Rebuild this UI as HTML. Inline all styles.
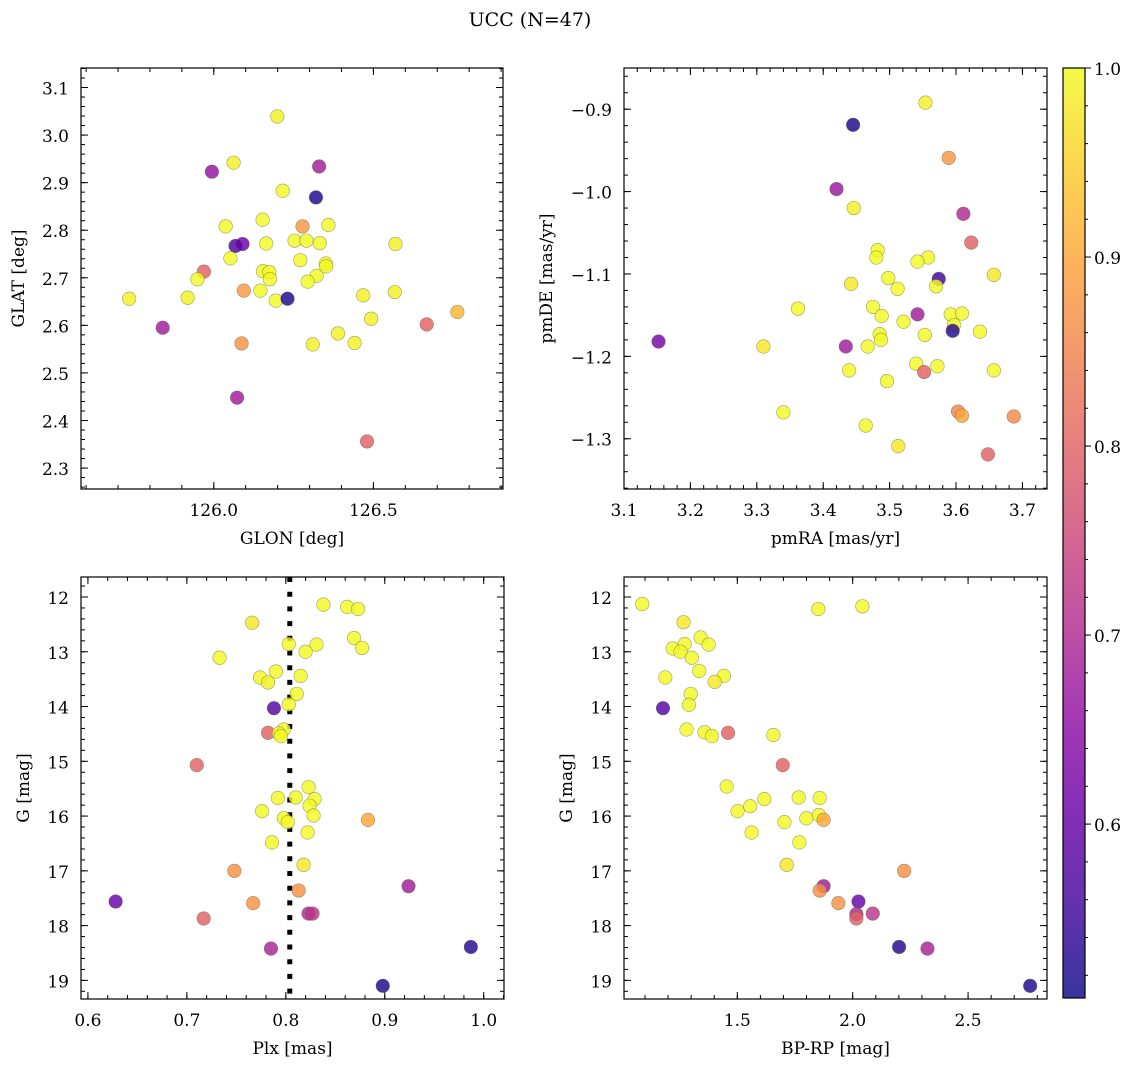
<!DOCTYPE html>
<html><head><meta charset="utf-8"><style>
html,body{margin:0;padding:0;background:#fff;}
svg{display:block;font-family:"DejaVu Serif","Liberation Serif",serif;}
</style></head><body>
<svg id="chart" width="1136" height="1067" viewBox="0 0 1136 1067" xmlns="http://www.w3.org/2000/svg">
<text x="530" y="26" font-size="19" text-anchor="middle">UCC (N=47)</text>
</svg>
<script>
// ---- Panel 1: GLON vs GLAT ----
const glonX = [126.199,125.994,126.062,126.330,126.320,126.216,126.037,126.153,126.278,126.359,126.068,126.090,126.164,126.253,126.290,126.332,126.569,126.052,126.271,126.351,126.352,125.969,125.949,126.154,126.174,126.176,126.322,126.294,126.094,126.146,125.735,125.918,126.194,126.231,126.468,126.567,126.763,126.667,125.840,126.493,126.389,126.441,126.087,126.310,126.073,126.480];
const glatY = [3.039,2.923,2.942,2.934,2.869,2.883,2.808,2.822,2.808,2.811,2.767,2.771,2.772,2.778,2.778,2.773,2.771,2.741,2.737,2.730,2.724,2.713,2.697,2.714,2.712,2.697,2.704,2.692,2.673,2.673,2.656,2.658,2.652,2.656,2.663,2.670,2.628,2.602,2.595,2.614,2.583,2.563,2.562,2.560,2.448,2.356];
const glonP = [0.99,0.66,0.99,0.68,0.52,1.0,1.0,1.0,0.88,1.0,0.57,0.60,1.0,1.0,1.0,1.0,0.99,1.0,1.0,1.0,1.0,0.80,1.0,1.0,1.0,1.0,1.0,1.0,0.88,1.0,0.99,0.99,1.0,0.52,0.99,0.99,0.92,0.80,0.68,0.99,0.99,0.99,0.87,0.99,0.68,0.80];
// ---- Panel 2: pmRA vs pmDE ----
const pmraX = [3.554,3.445,3.589,3.420,3.446,3.611,3.623,3.482,3.480,3.558,3.542,3.657,3.574,3.570,3.498,3.512,3.442,3.362,3.475,3.488,3.542,3.521,3.592,3.609,3.597,3.595,3.636,3.485,3.487,3.553,3.152,3.310,3.434,3.467,3.540,3.572,3.552,3.439,3.657,3.496,3.340,3.603,3.609,3.687,3.464,3.513,3.648];
const pmdeY = [-0.892,-0.919,-0.959,-0.997,-1.020,-1.027,-1.062,-1.071,-1.080,-1.080,-1.085,-1.101,-1.106,-1.115,-1.105,-1.118,-1.112,-1.142,-1.140,-1.151,-1.149,-1.158,-1.149,-1.148,-1.162,-1.169,-1.170,-1.173,-1.180,-1.174,-1.182,-1.188,-1.188,-1.188,-1.209,-1.212,-1.219,-1.217,-1.217,-1.230,-1.268,-1.267,-1.272,-1.273,-1.284,-1.309,-1.319];
const pmP = [0.99,0.52,0.88,0.67,0.99,0.70,0.80,1.0,1.0,1.0,1.0,0.98,0.55,1.0,1.0,1.0,0.98,1.0,1.0,1.0,0.68,1.0,1.0,1.0,1.0,0.53,1.0,1.0,1.0,1.0,0.62,0.98,0.68,1.0,1.0,1.0,0.80,1.0,1.0,1.0,1.0,0.85,0.90,0.86,1.0,0.98,0.80];
// ---- Panel 3: Plx vs G ----
const plxX = [0.838,0.862,0.873,0.766,0.869,0.877,0.803,0.831,0.820,0.733,0.790,0.774,0.782,0.815,0.811,0.803,0.788,0.782,0.798,0.793,0.795,0.710,0.823,0.792,0.810,0.829,0.824,0.776,0.828,0.798,0.802,0.883,0.822,0.786,0.818,0.748,0.924,0.813,0.628,0.767,0.823,0.827,0.717,0.785,0.987,0.898];
const plxG = [12.14,12.18,12.22,12.47,12.75,12.93,12.86,12.87,13.00,13.11,13.36,13.47,13.56,13.44,13.77,13.96,14.03,14.48,14.42,14.49,14.54,15.07,15.47,15.67,15.66,15.69,15.81,15.91,15.99,16.04,16.11,16.07,16.30,16.48,16.89,17.00,17.28,17.36,17.56,17.59,17.78,17.78,17.87,18.42,18.39,19.10];
const plxP = [1.0,1.0,1.0,0.98,1.0,1.0,1.0,1.0,1.0,1.0,1.0,1.0,0.99,1.0,1.0,1.0,0.58,0.80,1.0,1.0,1.0,0.80,1.0,1.0,1.0,1.0,1.0,1.0,1.0,1.0,1.0,0.90,1.0,1.0,0.98,0.87,0.68,0.87,0.60,0.87,0.70,0.72,0.80,0.69,0.53,0.52];
const plxMedian = [0.804];
// ---- Panel 4: BP-RP vs G ----
const bprpX = [1.088,1.851,2.042,1.267,1.341,1.376,1.272,1.220,1.254,1.303,1.335,1.188,1.442,1.402,1.298,1.290,1.178,1.280,1.358,1.390,1.460,1.656,1.697,1.454,1.501,1.556,1.617,1.766,1.857,1.853,1.799,1.874,1.704,1.562,1.769,1.714,2.223,1.874,1.857,1.938,2.025,2.016,2.087,2.016,2.201,2.324,2.769];
const bprpG = [12.13,12.22,12.17,12.46,12.74,12.87,12.86,12.94,13.00,13.11,13.35,13.47,13.44,13.55,13.77,13.97,14.03,14.42,14.47,14.54,14.48,14.52,15.07,15.46,15.91,15.82,15.69,15.66,15.67,15.98,16.04,16.07,16.11,16.30,16.48,16.89,17.00,17.28,17.36,17.59,17.56,17.79,17.78,17.87,18.39,18.42,19.10];
const bprpP = [1.0,1.0,1.0,0.98,1.0,1.0,1.0,1.0,1.0,1.0,1.0,1.0,1.0,0.98,1.0,1.0,0.58,1.0,1.0,1.0,0.80,1.0,0.80,1.0,1.0,1.0,1.0,1.0,1.0,1.0,1.0,0.90,1.0,1.0,1.0,0.98,0.87,0.68,0.87,0.87,0.60,0.70,0.72,0.80,0.53,0.69,0.52];
// colorbar
const cbTicks = [0.6,0.7,0.8,0.9,1.0];
const cbMin = 0.508, cbMax = 1.0;

const NS = "http://www.w3.org/2000/svg";
const svg = document.getElementById('chart');
const FS = 17;
function mk(tag, attrs, parent){ const e=document.createElementNS(NS,tag); for(const k in attrs) e.setAttribute(k,attrs[k]); (parent||svg).appendChild(e); return e; }
const plasma = ["#0d0887","#41049d","#6a00a8","#8f0da4","#b12a90","#cc4778","#e16462","#f2844b","#fca636","#fcce25","#f0f921"];
function hex(h){return [parseInt(h.substr(1,2),16),parseInt(h.substr(3,2),16),parseInt(h.substr(5,2),16)];}
function cmap(v){ let t=(v-cbMin)/(cbMax-cbMin); t=Math.max(0,Math.min(1,t)); const f=t*10; const i=Math.min(9,Math.floor(f)); const r=f-i; const a=hex(plasma[i]), b=hex(plasma[i+1]); return 'rgb('+a.map((c,k)=>Math.round(c+(b[k]-c)*r)).join(',')+')'; }
function fmt(v,d){ const s=v.toFixed(d); return s.replace('-','\u2212'); }

function panel(cfg){
  const {name,x0,x1,y0,y1,xmin,xmax,ymin,ymax,invertY} = cfg;
  const sx = v => x0 + (v-xmin)/(xmax-xmin)*(x1-x0);
  const sy = invertY ? (v => y0 + (v-ymin)/(ymax-ymin)*(y1-y0)) : (v => y1 - (v-ymin)/(ymax-ymin)*(y1-y0));
  const g = mk('g',{});
  
  
  const tg = mk('g',{stroke:'#000','stroke-width':1},g);
  function ticksX(step,len,labels,dec){
    const s=Math.ceil(xmin/step-1e-6);
    for(let k=s; k*step<=xmax+1e-9; k++){ const v=k*step, x=sx(v);
      mk('line',{x1:x,x2:x,y1:y1,y2:y1-len},tg); mk('line',{x1:x,x2:x,y1:y0,y2:y0+len},tg);
      if(labels){ const t=mk('text',{x:x,y:y1+27,'font-size':FS,'text-anchor':'middle',stroke:'none'},g); t.textContent=fmt(v,dec);
          }
    }
  }
  function ticksY(step,len,labels,dec){
    const lo=Math.min(ymin,ymax), hi=Math.max(ymin,ymax);
    const s=Math.ceil(lo/step-1e-6);
    for(let k=s; k*step<=hi+1e-9; k++){ const v=k*step, y=sy(v);
      mk('line',{x1:x0,x2:x0+len,y1:y,y2:y},tg); mk('line',{x1:x1,x2:x1-len,y1:y,y2:y},tg);
      if(labels){ const t=mk('text',{x:x0-12,y:y+7,'font-size':FS,'text-anchor':'end',stroke:'none'},g); t.textContent=fmt(v,dec);
          }
    }
  }
  ticksX(cfg.xMinor,4,false); ticksX(cfg.xMajor,7,true,cfg.xDec);
  ticksY(cfg.yMinor,4,false); ticksY(cfg.yMajor,7,true,cfg.yDec);
  if(cfg.vline){ cfg.vline.forEach(v=>{ const l=mk('line',{x1:sx(v),x2:sx(v),y1:y0,y2:y1,stroke:'#000','stroke-width':5,'stroke-dasharray':'5,9.7'},g);
      }); }
  const pg = mk('g',{},g);
  
  
  for(let i=0;i<cfg.xs.length;i++){
    const c=mk('circle',{cx:sx(cfg.xs[i]),cy:sy(cfg.ys[i]),r:6.8,fill:cmap(cfg.ps[i]),'fill-opacity':0.82,stroke:'rgba(90,90,60,0.55)','stroke-width':0.6},pg);
    
    
  }
  const f=mk('rect',{x:x0,y:y0,width:x1-x0,height:y1-y0,fill:'none',stroke:'#000','stroke-width':1.2},g);
  
  
  const xl=mk('text',{x:(x0+x1)/2,y:y1+55,'font-size':FS,'text-anchor':'middle'},g); xl.textContent=cfg.xlabel;
   
  const yx=cfg.ylabelX, yy=(y0+y1)/2;
  const yl=mk('text',{x:yx,y:yy,'font-size':FS,'text-anchor':'middle',transform:'rotate(-90 '+yx+' '+yy+')'},g); yl.textContent=cfg.ylabel;
   
}

panel({name:'glon-glat-panel',x0:81,x1:503,y0:68,y1:489,xmin:125.584,xmax:126.906,ymin:2.256,ymax:3.141,
  xMajor:0.5,xMinor:0.1,xDec:1,yMajor:0.1,yMinor:0.02,yDec:1,xs:glonX,ys:glatY,ps:glonP,xlabel:'GLON [deg]',ylabel:'GLAT [deg]',ylabelX:24});
panel({name:'pm-panel',x0:624,x1:1047,y0:68,y1:489,xmin:3.1,xmax:3.737,ymin:-1.361,ymax:-0.850,
  xMajor:0.1,xMinor:0.02,xDec:1,yMajor:0.1,yMinor:0.02,yDec:1,xs:pmraX,ys:pmdeY,ps:pmP,xlabel:'pmRA [mas/yr]',ylabel:'pmDE [mas/yr]',ylabelX:552});
panel({name:'plx-g-panel',x0:81,x1:504,y0:577,y1:999,xmin:0.593,xmax:1.0205,ymin:11.635,ymax:19.34,invertY:true,
  xMajor:0.1,xMinor:0.02,xDec:1,yMajor:1,yMinor:0.2,yDec:0,xs:plxX,ys:plxG,ps:plxP,vline:plxMedian,xlabel:'Plx [mas]',ylabel:'G [mag]',ylabelX:29});
panel({name:'cmd-panel',x0:624,x1:1047,y0:577,y1:999,xmin:1.009,xmax:2.842,ymin:11.635,ymax:19.34,invertY:true,
  xMajor:0.5,xMinor:0.1,xDec:1,yMajor:1,yMinor:0.2,yDec:0,xs:bprpX,ys:bprpG,ps:bprpP,xlabel:'BP-RP [mag]',ylabel:'G [mag]',ylabelX:572});

(function(){
  const x0=1063,x1=1085,y0=68,y1=998;
  const cb=mk('g',{});
  
  
  const defs=mk('defs',{},cb);
  const lg=mk('linearGradient',{id:'plasmaGrad',x1:0,y1:1,x2:0,y2:0},defs);
  plasma.forEach((c,i)=>mk('stop',{offset:(i*10)+'%','stop-color':c,'stop-opacity':0.82},lg));
  mk('rect',{x:x0,y:y0,width:x1-x0,height:y1-y0,fill:'url(#plasmaGrad)'},cb);
  const sy=v=>y1-(v-cbMin)/(cbMax-cbMin)*(y1-y0);
  for(let k=Math.ceil(cbMin/0.02);k*0.02<=cbMax+1e-9;k++){ const y=sy(k*0.02); mk('line',{x1:x1,x2:x1+3,y1:y,y2:y,stroke:'#000'},cb); }
  cbTicks.forEach(v=>{ const y=sy(v); mk('line',{x1:x1,x2:x1+6,y1:y,y2:y,stroke:'#000'},cb);
    const t=mk('text',{x:x1+9,y:y+7,'font-size':FS},cb); t.textContent=v.toFixed(1);
      });
  mk('rect',{x:x0,y:y0,width:x1-x0,height:y1-y0,fill:'none',stroke:'#000','stroke-width':1.2},cb);
})();
</script>
</body></html>
